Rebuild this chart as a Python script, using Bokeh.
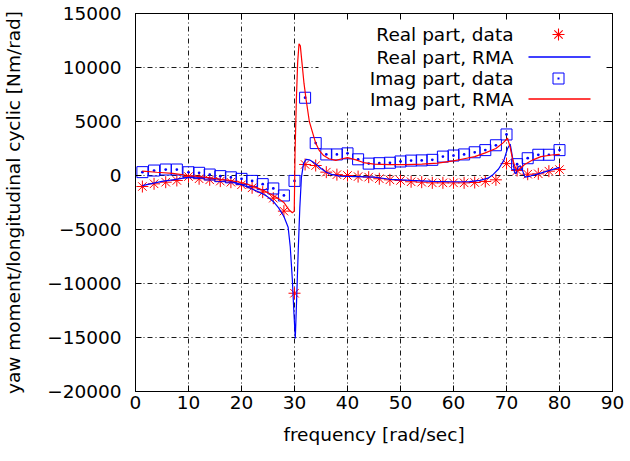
from bokeh.plotting import figure
from bokeh.models import Range1d, FixedTicker, LinearAxis, Label, BoxAnnotation, Arrow
from bokeh.embed import file_html
from bokeh.resources import INLINE

# ---------------- data ----------------
freq = [1.3, 3.5, 5.7, 7.8, 10, 12, 14, 16, 18, 20, 22, 24, 26, 28, 30, 32, 34, 36, 38, 40,
        42, 44, 46, 48, 50, 52, 54, 56, 58, 60, 62, 64, 66, 68, 70, 72, 74, 76, 78, 80]
real_data = [-1020, -770, -620, -460, -100, -300, -400, -520, -620, -860, -1140, -1540, -2100, -3300,
             -10900, 1020, 925, 310, 80, 0, -100, -150, -300, -400, -460, -580, -620, -680, -680,
             -680, -680, -650, -550, -400, 1100, 460, 120, 155, 400, 550]
imag_data = [310, 460, 555, 555, 300, 250, 90, -60, -170, -310, -500, -800, -1200, -1850,
             -500, 7200, 3000, 1950, 1950, 2050, 1500, 1100, 1140, 1180, 1300, 1380, 1400, 1450,
             1750, 1850, 1950, 2150, 2350, 2800, 3800, 1050, 1600, 1920, 1920, 2350]

rma_freq_real = [1.3, 3, 5, 7, 9, 10.5, 12, 14, 16, 18, 20, 22, 24, 25, 26, 27, 28, 28.8, 29.2,
                 29.6, 29.9, 30.15, 30.4, 30.7, 31.0, 31.3, 31.7, 32.2, 32.8, 33.5, 34.2, 35, 36,
                 37, 38.5, 40, 42, 45, 48, 52, 56, 60, 63, 65, 66.5, 67.5, 68.5, 69.5, 70.2, 70.7,
                 71.1, 71.5, 71.8, 72.2, 72.6, 73, 73.5, 74.5, 76, 78, 80]
rma_real = [-930, -750, -550, -400, -250, -150, -150, -250, -350, -550, -850, -1250, -1700, -2000,
            -2400, -3000, -3800, -4800, -6600, -9700, -12800, -15100, -11500, -7000, -3000, -200,
            1100, 1500, 1450, 1250, 1000, 650, 300, 100, -50, -80, -100, -150, -350, -460, -550,
            -580, -560, -450, -250, 100, 600, 1400, 2500, 2900, 1800, 300, 150, 800, 900, 500,
            -150, -50, 150, 450, 750]

rma_freq_imag = [1.3, 4, 7, 10, 13, 16, 18, 20, 22, 24, 26, 27, 28, 29, 29.6, 29.95, 30.1, 30.35,
                 30.6, 30.85, 31.1, 31.4, 31.8, 32.2, 32.8, 33.4, 34, 34.7, 35.5, 36.5, 37.8, 39,
                 40, 41.6, 43, 45, 48, 51, 54, 57, 60, 62, 64, 66, 68, 69.3, 70.2, 70.7, 71.1,
                 71.6, 72.1, 72.6, 73.5, 75, 76.5, 78.5, 80]
rma_imag = [400, 300, 200, 0, -150, -350, -480, -650, -950, -1350, -1850, -2150, -2500, -3200,
            -3450, -3300, 2000, 7000, 10500, 12200, 12000, 10500, 8500, 7000, 5000, 4000, 3000,
            2300, 1850, 1550, 1400, 1550, 1650, 1450, 1200, 1050, 1000, 1000, 1050, 1150, 1350,
            1550, 1750, 2100, 2500, 3000, 3450, 2600, 1600, 800, 400, 650, 1050, 1450, 1750,
            1900, 1950]

x_ticks = [0, 10, 20, 30, 40, 50, 60, 70, 80, 90]
y_ticks = [-20000, -15000, -10000, -5000, 0, 5000, 10000, 15000]
legend_labels = ["Real part, data", "Real part, RMA", "Imag part, data", "Imag part, RMA"]
x_title = "frequency [rad/sec]"
y_title = "yaw moment/longitudinal cyclic [Nm/rad]"

# ---------------- styling ----------------
FONT = "DejaVu Sans"
FS = "18.5px"
RED = "#ff0000"
BLUE = "#0000ff"
W, H = 630, 461
ML, MR, MT, MB = 132, 18, 13, 70
FW, FH = W - ML - MR, H - MT - MB

p = figure(width=W, height=H, x_range=Range1d(0, 90), y_range=Range1d(-20000, 15000),
           output_backend="svg", toolbar_location=None,
           min_border_left=ML, min_border_right=MR, min_border_top=MT, min_border_bottom=MB)
p.background_fill_color = "white"
p.border_fill_color = "white"
p.outline_line_color = "black"
p.outline_line_width = 1

for ax, ticks in ((p.xaxis[0], x_ticks), (p.yaxis[0], y_ticks)):
    ax.ticker = FixedTicker(ticks=ticks)
    ax.major_tick_in = 6
    ax.major_tick_out = 0
    ax.minor_tick_line_color = None
    ax.axis_line_color = "black"
    ax.major_tick_line_color = "black"
    ax.major_label_text_font = FONT
    ax.major_label_text_font_size = FS
    ax.major_label_text_color = "black"
    ax.axis_label_text_font = FONT
    ax.axis_label_text_font_size = FS
    ax.axis_label_text_font_style = "normal"
    ax.axis_label_text_color = "black"

p.xaxis[0].axis_label = x_title
p.yaxis[0].axis_label = y_title
p.xaxis[0].major_label_standoff = 4
p.xaxis[0].axis_label_standoff = 12
p.yaxis[0].major_label_standoff = 14
p.yaxis[0].axis_label_standoff = 20

# mirrored inward ticks on the top and right borders
for side, ticks in (("above", x_ticks), ("right", y_ticks)):
    ax = LinearAxis(ticker=FixedTicker(ticks=ticks), major_tick_in=6, major_tick_out=0,
                    minor_tick_line_color=None, major_label_text_font_size="0px",
                    major_label_overrides={t: "" for t in ticks}, axis_line_color="black",
                    major_tick_line_color="black", major_label_standoff=0)
    p.add_layout(ax, side)

for g, ticks in ((p.xgrid[0], x_ticks), (p.ygrid[0], y_ticks)):
    g.ticker = FixedTicker(ticks=ticks)
    g.grid_line_color = "black"
    g.grid_line_dash = "5 3 1 3"
    g.grid_line_width = 1
    g.grid_line_alpha = 0.9
    g.level = "image"


def sbox(left, right, bottom, top, **kw):
    p.add_layout(BoxAnnotation(left=left, right=right, bottom=bottom, top=top,
                               left_units="screen", right_units="screen",
                               bottom_units="screen", top_units="screen", **kw))


# the key area hides the grid beneath it (screen units from the frame's lower left)
sbox(183, FW, FH - 99, FH, fill_color="white", fill_alpha=1, line_color=None, level="underlay")

# ---------------- series ----------------
p.scatter(freq, real_data, marker="asterisk", size=12, line_color=RED, line_width=1)
p.line(rma_freq_real, rma_real, line_color=BLUE, line_width=1.2)
p.scatter(freq, imag_data, marker="square_dot", size=11, line_color=BLUE, fill_alpha=0,
          line_width=1)
p.line(rma_freq_imag, rma_imag, line_color=RED, line_width=1.2)

# ---------------- key (gnuplot style: text right-aligned, sample on the right) ----------------
text_right = 378
row_y = [FH - 21, FH - 44, FH - 65, FH - 86]
sample_cx = 423
sample_l, sample_r = 393, 455
for lab, yy in zip(legend_labels, row_y):
    p.add_layout(Label(x=text_right, y=yy, x_units="screen", y_units="screen", text=lab,
                       text_align="right", text_baseline="middle", text_font=FONT,
                       text_font_size=FS, text_color="black"))


def seg(x0, y0, x1, y1, color, w=1.1):
    p.add_layout(Arrow(x_start=x0, y_start=y0, x_end=x1, y_end=y1, start_units="screen",
                       end_units="screen", start=None, end=None, line_color=color,
                       line_width=w, level="overlay"))


# star sample
r, r2 = 6, 4.2
cy = row_y[0]
seg(sample_cx, cy - r, sample_cx, cy + r, RED)
seg(sample_cx - r, cy, sample_cx + r, cy, RED)
seg(sample_cx - r2, cy - r2, sample_cx + r2, cy + r2, RED)
seg(sample_cx - r2, cy + r2, sample_cx + r2, cy - r2, RED)
# blue line sample
seg(sample_l, row_y[1] + 0.5, sample_r, row_y[1] + 0.5, BLUE, 1.5)
# square sample
cy = row_y[2]
sbox(sample_cx - 5.5, sample_cx + 5.5, cy - 5.5, cy + 5.5, fill_alpha=0, line_color=BLUE,
     line_alpha=1, line_width=1, level="overlay")
sbox(sample_cx - 1, sample_cx + 1, cy - 1, cy + 1, fill_color=BLUE, fill_alpha=1,
     line_color=None, level="overlay")
# red line sample
seg(sample_l, row_y[3] + 0.5, sample_r, row_y[3] + 0.5, RED, 1.5)

open("out.html", "w").write(file_html(p, INLINE))
